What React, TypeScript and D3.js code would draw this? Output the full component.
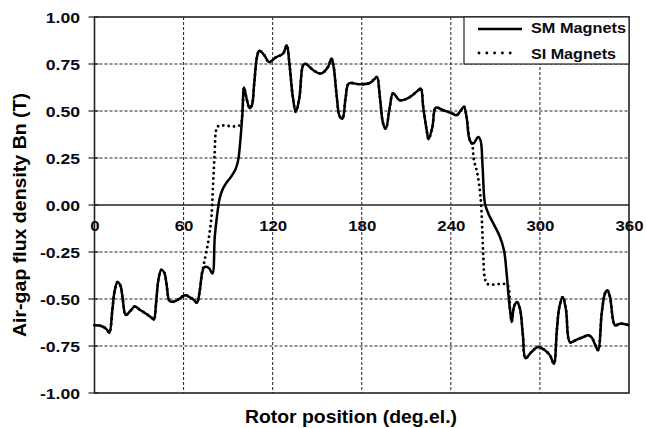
import React from "react";
import * as d3 from "d3";

const xTicks = [0, 60, 120, 180, 240, 300, 360];
const yTicks = [-1, -0.75, -0.5, -0.25, 0, 0.25, 0.5, 0.75, 1];
const yTickLabels = ["-1.00", "-0.75", "-0.50", "-0.25", "0.00", "0.25", "0.50", "0.75", "1.00"];

const smDeg = [0, 5, 8, 10, 12, 13.5, 15.5, 17.5, 19, 21, 24, 27, 31, 35, 38.5, 40, 41.5, 43, 45, 47, 48.5, 50.5, 53, 56, 61, 64, 67, 69, 71, 72.5, 74, 77, 79.4, 81, 82.5, 84.3, 86.5, 89, 92, 95, 96.8, 98.2, 99.6, 100.7, 102.3, 104.5, 106, 107.5, 109.5, 111, 114.5, 117.5, 122.5, 127, 129.5, 131.3, 133.5, 135.6, 138, 140.3, 141.8, 147.4, 152.5, 157.3, 159.6, 161.1, 163, 165.2, 167, 169.2, 171.3, 178.7, 185.4, 188.8, 190.3, 192.2, 194.4, 196.2, 198.9, 201.1, 205.6, 212.4, 218, 219.8, 221.4, 223.7, 225, 227.6, 229.9, 234.8, 240.5, 243.9, 246.5, 248.8, 250.6, 252.8, 255.1, 258.4, 260, 261.4, 263, 265.3, 268.7, 273.1, 275.8, 277.6, 278.7, 279.9, 281, 282.5, 284.5, 286.5, 288.5, 290.3, 294.3, 298.9, 303.4, 306.8, 309.4, 311.4, 313.1, 315.4, 317.6, 320.3, 324.8, 329.2, 332.6, 334.9, 337.8, 339.3, 341.6, 343.8, 345.4, 347.2, 350.6, 354, 360];
const smVal = [-0.64, -0.645, -0.66, -0.68, -0.56, -0.46, -0.41, -0.43, -0.5, -0.585, -0.565, -0.54, -0.56, -0.58, -0.6, -0.61, -0.52, -0.4, -0.345, -0.36, -0.42, -0.51, -0.515, -0.505, -0.48, -0.49, -0.505, -0.52, -0.45, -0.36, -0.33, -0.335, -0.365, -0.17, -0.06, 0.035, 0.087, 0.12, 0.15, 0.19, 0.24, 0.34, 0.486, 0.625, 0.57, 0.515, 0.53, 0.64, 0.79, 0.82, 0.795, 0.76, 0.787, 0.805, 0.85, 0.75, 0.58, 0.495, 0.57, 0.74, 0.752, 0.717, 0.699, 0.734, 0.779, 0.734, 0.59, 0.47, 0.46, 0.574, 0.646, 0.642, 0.649, 0.672, 0.681, 0.574, 0.433, 0.405, 0.521, 0.594, 0.557, 0.574, 0.61, 0.619, 0.521, 0.4, 0.35, 0.415, 0.518, 0.504, 0.489, 0.477, 0.5, 0.523, 0.468, 0.344, 0.327, 0.362, 0.344, 0.202, 0.007, -0.046, -0.099, -0.17, -0.241, -0.365, -0.47, -0.56, -0.622, -0.543, -0.516, -0.55, -0.69, -0.815, -0.782, -0.755, -0.773, -0.8, -0.844, -0.666, -0.543, -0.489, -0.56, -0.73, -0.716, -0.702, -0.693, -0.705, -0.755, -0.773, -0.578, -0.471, -0.454, -0.489, -0.64, -0.631, -0.64];

const siDeg = [0, 5, 8, 10, 12, 13.5, 15.5, 17.5, 19, 21, 24, 27, 31, 35, 38.5, 40, 41.5, 43, 45, 47, 48.5, 50.5, 53, 56, 61, 64, 67, 69, 71, 72.5, 74, 76.4, 78.7, 79.8, 80.9, 82, 83.5, 97.8, 99.6, 100.7, 102.3, 104.5, 106, 107.5, 109.5, 111, 114.5, 117.5, 122.5, 127, 129.5, 131.3, 133.5, 135.6, 138, 140.3, 141.8, 147.4, 152.5, 157.3, 159.6, 161.1, 163, 165.2, 167, 169.2, 171.3, 178.7, 185.4, 188.8, 190.3, 192.2, 194.4, 196.2, 198.9, 201.1, 205.6, 212.4, 218, 219.8, 221.4, 223.7, 225, 227.6, 229.9, 234.8, 240.5, 243.9, 246.5, 248.8, 250.6, 252.8, 254.4, 255.5, 257.8, 260, 261.2, 261.9, 262.8, 264.6, 276, 278.5, 279.9, 281, 282.5, 284.5, 286.5, 288.5, 290.3, 294.3, 298.9, 303.4, 306.8, 309.4, 311.4, 313.1, 315.4, 317.6, 320.3, 324.8, 329.2, 332.6, 334.9, 337.8, 339.3, 341.6, 343.8, 345.4, 347.2, 350.6, 354, 360];
const siVal = [-0.64, -0.645, -0.66, -0.68, -0.56, -0.46, -0.41, -0.43, -0.5, -0.585, -0.565, -0.54, -0.56, -0.58, -0.6, -0.61, -0.52, -0.4, -0.345, -0.36, -0.42, -0.51, -0.515, -0.505, -0.48, -0.49, -0.505, -0.52, -0.45, -0.36, -0.3, -0.205, -0.07, 0.1, 0.27, 0.4, 0.42, 0.424, 0.486, 0.625, 0.57, 0.515, 0.53, 0.64, 0.79, 0.82, 0.795, 0.76, 0.787, 0.805, 0.85, 0.75, 0.58, 0.495, 0.57, 0.74, 0.752, 0.717, 0.699, 0.734, 0.779, 0.734, 0.59, 0.47, 0.46, 0.574, 0.646, 0.642, 0.649, 0.672, 0.681, 0.574, 0.433, 0.405, 0.521, 0.594, 0.557, 0.574, 0.61, 0.619, 0.521, 0.4, 0.35, 0.415, 0.518, 0.504, 0.489, 0.477, 0.5, 0.523, 0.468, 0.344, 0.32, 0.24, 0.17, 0.043, -0.135, -0.277, -0.383, -0.42, -0.42, -0.43, -0.56, -0.622, -0.543, -0.516, -0.55, -0.69, -0.815, -0.782, -0.755, -0.773, -0.8, -0.844, -0.666, -0.543, -0.489, -0.56, -0.73, -0.716, -0.702, -0.693, -0.705, -0.755, -0.773, -0.578, -0.471, -0.454, -0.489, -0.64, -0.631, -0.64];

const seriesNames = ["SM Magnets", "SI Magnets"];
const xTitle = "Rotor position (deg.el.)";
const yTitle = "Air-gap flux density Bn (T)";

const W = 646;
const H = 428;
const left = 94.5;
const right = 629;
const top = 17;
const bottom = 393;
const FONT = "'Liberation Sans', Arial, sans-serif";

export default function App() {
  const x = d3.scaleLinear().domain([0, 360]).range([left, right]);
  const y = d3.scaleLinear().domain([-1, 1]).range([bottom, top]);
  const line = d3
    .line<[number, number]>()
    .x((d) => x(d[0]))
    .y((d) => y(d[1]))
    .curve(d3.curveCatmullRom.alpha(0.5));
  const sm: [number, number][] = smDeg.map((d, i) => [d, smVal[i]]);
  const si: [number, number][] = siDeg.map((d, i) => [d, siVal[i]]);

  return (
    <svg
      width={W}
      height={H}
      style={{ position: "absolute", left: 0, top: 0, background: "#fff" }}
      fontFamily={FONT}
      fontWeight="bold"
    >
      <rect x={0} y={0} width={W} height={H} fill="#fff" />
      {/* grid */}
      {yTicks.map((t) =>
        t === 0 || t === 1 || t === -1 ? null : (
          <line key={"gy" + t} x1={left} x2={right} y1={y(t)} y2={y(t)} stroke="#222" strokeWidth={1} strokeDasharray="3,2" />
        )
      )}
      {xTicks.map((t) =>
        t === 0 || t === 360 ? null : (
          <line key={"gx" + t} x1={x(t)} x2={x(t)} y1={top} y2={bottom} stroke="#222" strokeWidth={1} strokeDasharray="3,2" />
        )
      )}
      {/* zero axis */}
      <line x1={left} x2={right} y1={y(0)} y2={y(0)} stroke="#222" strokeWidth={1.3} />
      {/* y ticks */}
      {yTicks.map((t) => (
        <line key={"ty" + t} x1={left - 6} x2={left + 4} y1={y(t)} y2={y(t)} stroke="#222" strokeWidth={1.2} />
      ))}
      {/* border */}
      <rect x={left} y={top} width={right - left} height={bottom - top} fill="none" stroke="#222" strokeWidth={1.6} />
      {/* y labels */}
      {yTicks.map((t, i) => (
        <text
          key={"ly" + t}
          transform={`translate(80,${y(t) + 5.6}) scale(1.15,1)`}
          textAnchor="end"
          fontSize={15.3}
          fill="#0a0a14"
        >
          {yTickLabels[i]}
        </text>
      ))}
      {/* x labels */}
      {xTicks.map((t) => (
        <text
          key={"lx" + t}
          transform={`translate(${x(t) + 0.5},230.5) scale(1.1,1)`}
          textAnchor="middle"
          fontSize={15.3}
          fill="#0a0a14"
        >
          {t}
        </text>
      ))}
      {/* series */}
      <path d={line(si) || ""} fill="none" stroke="#000" strokeWidth={2.9} strokeLinecap="round" strokeDasharray="0 5.3" />
      <path d={line(sm) || ""} fill="none" stroke="#000" strokeWidth={2.5} strokeLinejoin="round" />
      {/* legend */}
      <rect x={464} y={top} width={right - 464} height={47} fill="#fff" stroke="#222" strokeWidth={1.2} />
      <line x1={478} x2={522} y1={29} y2={29} stroke="#000" strokeWidth={2.5} />
      <line x1={479} x2={518} y1={53} y2={53} stroke="#000" strokeWidth={2.9} strokeLinecap="round" strokeDasharray="0 7.8" />
      <text x={531} y={33.3} fontSize={14.8} textLength={95} lengthAdjust="spacingAndGlyphs" fill="#0a0a14">
        {seriesNames[0]}
      </text>
      <text x={531} y={58.5} fontSize={14.8} textLength={85} lengthAdjust="spacingAndGlyphs" fill="#0a0a14">
        {seriesNames[1]}
      </text>
      {/* titles */}
      <text x={245} y={422.7} fontSize={17.8} textLength={212} lengthAdjust="spacingAndGlyphs" fill="#000">
        {xTitle}
      </text>
      <text
        transform="translate(25.5,337) rotate(-90)"
        fontSize={17.8}
        textLength={244}
        lengthAdjust="spacingAndGlyphs"
        fill="#000"
      >
        {yTitle}
      </text>
    </svg>
  );
}
